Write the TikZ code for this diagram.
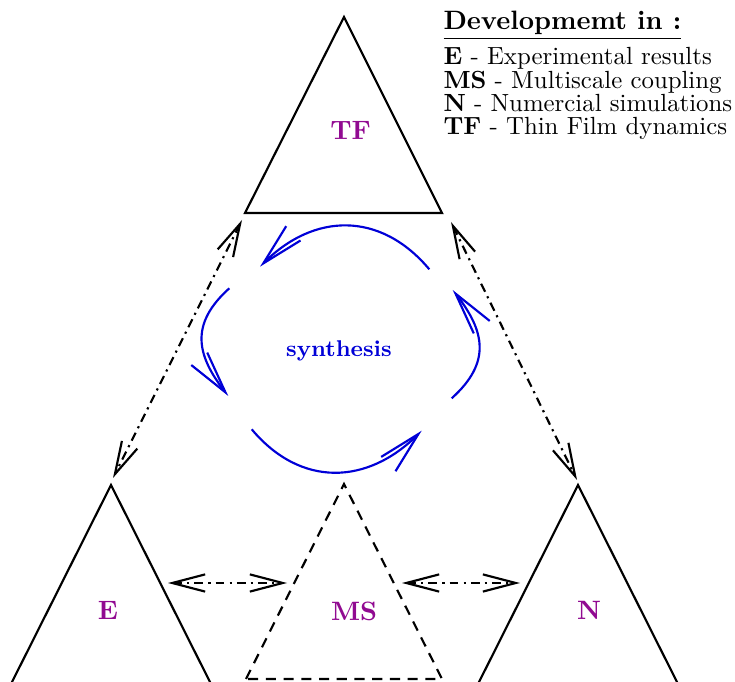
\documentclass[tikz,border=0pt]{standalone}
\usetikzlibrary{arrows.meta}
\definecolor{labc}{RGB}{145,10,145}
\definecolor{sync}{RGB}{0,0,215}
\begin{document}
\begin{tikzpicture}[x=0.395pt,y=0.395pt,
  tri/.style={line width=0.85pt, line join=miter},
  dtri/.style={tri, dash pattern=on 4pt off 3pt},
  link/.style={line width=0.85pt, dash pattern=on 3.5pt off 2pt on 0.85pt off 2pt,
    {Straight Barb[length=13pt,width=6.8pt]}-{Straight Barb[length=13pt,width=6.8pt]}},
  cyc/.style={draw=sync, line width=0.85pt, -{Straight Barb[length=16.8pt,width=8pt]}},
  lbl/.style={text=labc, font=\fontsize{10.5}{12}\selectfont\bfseries},
  leg/.style={anchor=base west, inner sep=0pt, font=\fontsize{9.8}{11}\selectfont}]
\useasboundingbox (0,0) rectangle (735,681);

% triangles
\draw[tri] (245,468) -- (344,664) -- (442,468) -- cycle;
\draw[tri] (11,-3) -- (111,196) -- (211,-3) -- cycle;
\draw[tri] (478,-3) -- (578,196) -- (678,-3) -- cycle;
\draw[dtri] (246,2) -- (344,197) -- (442,2) -- cycle;

% labels
\node[lbl] (tf) at (350.5,551) {TF};
\node[lbl] (e) at (108,70.5) {E};
\node[lbl] (ms) at (354,70) {MS};
\node[lbl] (n) at (589,70.5) {N};
\node[text=sync, font=\small\bfseries] (syn) at (339,330) {synthesis};

% legend
\node[leg, font=\fontsize{10.5}{12}\selectfont] (head) at (443,651) {\underline{\textbf{Developmemt in :}}};
\node[leg] (l1) at (443,616) {\textbf{E} - Experimental results};
\node[leg] (l2) at (443,592.7) {\textbf{MS} - Multiscale coupling};
\node[leg] (l3) at (443,569.3) {\textbf{N} - Numercial simulations};
\node[leg] (l4) at (443,546) {\textbf{TF} - Thin Film dynamics};

% link end points
\coordinate (a1) at (242,461);
\coordinate (a2) at (113,203);
\coordinate (b1) at (451,459);
\coordinate (b2) at (577,201);
\coordinate (c1) at (168,98);
\coordinate (c2) at (287,98);
\coordinate (d1) at (402,98);
\coordinate (d2) at (520,98);
\draw[link] (a1) -- (a2);
\draw[link] (b1) -- (b2);
\draw[link] (c1) -- (c2);
\draw[link] (d1) -- (d2);

% synthesis cycle
\coordinate (t1) at (429.3,411.7);
\coordinate (t2) at (260,414.3);
\coordinate (s1) at (229.3,392.7);
\coordinate (s2) at (228.3,285);
\coordinate (u1) at (251.7,251.7);
\coordinate (u2) at (421.7,250.3);
\coordinate (r1) at (451.7,282.7);
\coordinate (r2) at (452.7,391);
\draw[cyc] (t1) to[out=130, in=45, looseness=1.15] (t2);
\draw[cyc] (s1) to[out=222, in=128, looseness=1.25] (s2);
\draw[cyc] (u1) to[out=-50, in=225, looseness=1.15] (u2);
\draw[cyc] (r1) to[out=42, in=-52, looseness=1.25] (r2);
\end{tikzpicture}
\end{document}
